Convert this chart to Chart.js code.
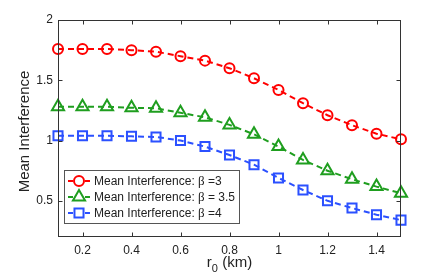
<!DOCTYPE html>
<html>
<head>
<meta charset="utf-8">
<script src="https://cdn.jsdelivr.net/npm/chart.js@4.4.1/dist/chart.umd.min.js"></script>
<style>
html,body{margin:0;padding:0;background:#fff;}
#wrap{width:443px;height:277px;position:relative;}
</style>
</head>
<body>
<div id="wrap"><canvas id="c" width="443" height="277"></canvas></div>
<script>
const xValues = [0.1,0.2,0.3,0.4,0.5,0.6,0.7,0.8,0.9,1.0,1.1,1.2,1.3,1.4,1.5];
const beta3 = [1.76,1.76,1.76,1.75,1.737,1.70,1.663,1.60,1.517,1.42,1.31,1.21,1.127,1.057,1.01];
const beta35 = [1.281,1.281,1.28,1.272,1.268,1.23,1.193,1.13,1.052,0.95,0.839,0.75,0.679,0.618,0.563];
const beta4 = [1.04,1.04,1.04,1.035,1.03,1.0,0.95,0.88,0.80,0.69,0.59,0.50,0.44,0.385,0.34];
const seriesLabels = ["Mean Interference: β =3","Mean Interference: β = 3.5","Mean Interference: β =4"];
const xTicks = [0.2,0.4,0.6,0.8,1.0,1.2,1.4];
const yTicks = [0.5,1,1.5,2];
const xTitle = ["r","0"," (km)"];
const yTitle = "Mean Interference";

Chart.defaults.font.family = "'Liberation Sans', Arial, sans-serif";
Chart.defaults.color = "#222";

const colors = ["#ff0000","#1f9e1f","#2b50ff"];
const styles = ["circle","triangle","rect"];
const radii = [5,7,6.4];

function mk(vals,i){
  return {
    label: seriesLabels[i],
    data: xValues.map((x,k)=>({x:x,y:vals[k]})),
    borderColor: colors[i],
    backgroundColor: "rgba(0,0,0,0)",
    borderWidth: 2,
    borderDash: [6,4],
    pointStyle: styles[i],
    pointRadius: radii[i],
    pointBorderWidth: 2,
    pointBorderColor: colors[i],
    pointBackgroundColor: "rgba(0,0,0,0)",
    tension: 0,
    fill: false,
    clip: false
  };
}

const decor = {
  id: "decor",
  afterDraw(chart){
    const ctx = chart.ctx;
    const a = chart.chartArea;
    const xs = chart.scales.x, ys = chart.scales.y;
    ctx.save();
    ctx.strokeStyle = "#333";
    ctx.lineWidth = 1;
    ctx.setLineDash([]);
    const L = Math.round(a.left)+0.5, R = Math.round(a.right)-0.5, T = Math.round(a.top)+0.5, B = Math.round(a.bottom)-0.5;
    ctx.strokeRect(L, T, R-L, B-T);
    ctx.beginPath();
    xTicks.forEach(v=>{
      const p = Math.round(xs.getPixelForValue(v))+0.5;
      ctx.moveTo(p,B); ctx.lineTo(p,B-4);
      ctx.moveTo(p,T); ctx.lineTo(p,T+4);
    });
    yTicks.forEach(v=>{
      const p = Math.round(ys.getPixelForValue(v))+0.5;
      ctx.moveTo(L,p); ctx.lineTo(L+4,p);
      ctx.moveTo(R,p); ctx.lineTo(R-4,p);
    });
    ctx.stroke();
    ctx.fillStyle = "#222";
    ctx.font = "15px 'Liberation Sans', Arial, sans-serif";
    ctx.textAlign = "center";
    ctx.textBaseline = "middle";
    ctx.save();
    ctx.translate(25, (a.top+a.bottom)/2 + 3);
    ctx.rotate(-Math.PI/2);
    ctx.fillText(yTitle, 0, 0);
    ctx.restore();
    ctx.textAlign = "left";
    ctx.textBaseline = "alphabetic";
    const fMain = "15px 'Liberation Sans', Arial, sans-serif";
    const fSub = "11px 'Liberation Sans', Arial, sans-serif";
    ctx.font = fMain; const w0 = ctx.measureText(xTitle[0]).width;
    const w2 = ctx.measureText(xTitle[2]).width;
    ctx.font = fSub; const w1 = ctx.measureText(xTitle[1]).width;
    let xx = (a.left+a.right)/2 - (w0+w1+w2)/2;
    const base = 267;
    ctx.font = fMain; ctx.fillText(xTitle[0], xx, base); xx += w0;
    ctx.font = fSub; ctx.fillText(xTitle[1], xx, base+5); xx += w1;
    ctx.font = fMain; ctx.fillText(xTitle[2], xx, base);
    const bx = 64.5, by = 170.5, bw = 175, bh = 53;
    ctx.fillStyle = "#fff";
    ctx.fillRect(bx,by,bw,bh);
    ctx.strokeStyle = "#555";
    ctx.lineWidth = 1;
    ctx.strokeRect(bx,by,bw,bh);
    chart.data.datasets.forEach((ds,i)=>{
      const yy = 181 + 16*i;
      ctx.strokeStyle = ds.borderColor;
      ctx.lineWidth = 2;
      ctx.setLineDash([]);
      ctx.beginPath();
      ctx.moveTo(68,yy); ctx.lineTo(73,yy);
      ctx.moveTo(85,yy); ctx.lineTo(90,yy);
      ctx.stroke();
      ctx.fillStyle = "rgba(0,0,0,0)";
      Chart.helpers.drawPoint(ctx, {pointStyle: ds.pointStyle, radius: ds.pointRadius, rotation: 0, borderWidth: 2}, 79, yy);
      const parts = ds.label.split("β");
      ctx.fillStyle = "#222";
      ctx.textBaseline = "middle";
      ctx.textAlign = "left";
      let tx = 94;
      ctx.font = "12px 'Liberation Sans', Arial, sans-serif";
      ctx.fillText(parts[0], tx, yy+0.5); tx += ctx.measureText(parts[0]).width;
      ctx.font = "13px 'Liberation Serif', 'Times New Roman', serif";
      ctx.fillText("β", tx, yy+0.5); tx += ctx.measureText("β").width;
      ctx.font = "12px 'Liberation Sans', Arial, sans-serif";
      ctx.fillText(parts[1], tx, yy+0.5);
    });
    ctx.restore();
  }
};

new Chart(document.getElementById("c"), {
  type: "line",
  data: { datasets: [mk(beta3,0), mk(beta35,1), mk(beta4,2)] },
  options: {
    responsive: false,
    animation: false,
    layout: { padding: { top: 20, right: 42, left: 0, bottom: 0 } },
    plugins: { legend: { display: false }, tooltip: { enabled: false } },
    scales: {
      x: {
        type: "linear", min: 0.1, max: 1.5,
        afterBuildTicks: s => { s.ticks = xTicks.map(v=>({value:v})); },
        afterFit: s => { s.height = 40; },
        grid: { display: false, drawTicks: false },
        border: { display: false },
        ticks: { font: { size: 12 }, color: "#222", padding: 6, maxRotation: 0, autoSkip: false, callback: v => String(Math.round(v*10)/10) }
      },
      y: {
        type: "linear", min: 0.2, max: 2,
        afterBuildTicks: s => { s.ticks = yTicks.map(v=>({value:v})); },
        afterFit: s => { s.width = 58; },
        grid: { display: false, drawTicks: false },
        border: { display: false },
        ticks: { font: { size: 12 }, color: "#222", padding: 5, autoSkip: false, callback: v => String(v) }
      }
    }
  },
  plugins: [decor]
});
</script>
</body>
</html>
